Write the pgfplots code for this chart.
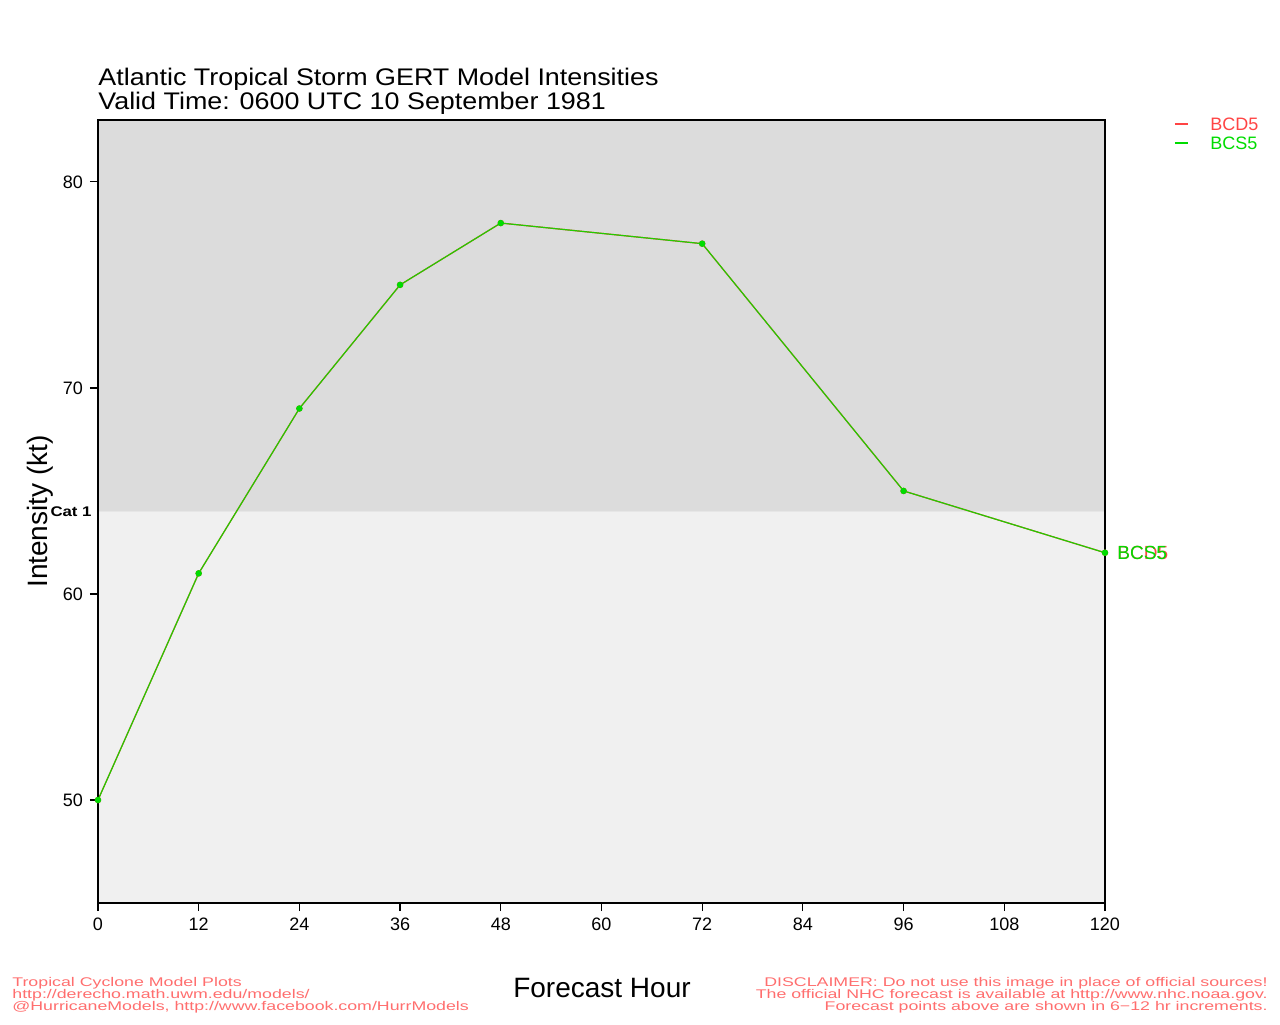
\documentclass[border=0pt]{standalone}
\usepackage{pgfplots}
\pgfplotsset{compat=1.18}
\usepackage{fontspec}
\setmainfont{Liberation Sans}
\newfontfamily\widefont[FakeStretch=1.12]{Liberation Sans}
\newfontfamily\footfont[FakeStretch=1.41]{Liberation Sans}
\newfontfamily\catfont[FakeStretch=1.2]{Liberation Sans}
\definecolor{bgtop}{RGB}{220,220,220}
\definecolor{bgbot}{RGB}{240,240,240}
\definecolor{lgreen}{RGB}{34,204,0}
\definecolor{mgreen}{RGB}{0,220,0}
\definecolor{lred}{RGB}{255,68,68}
\definecolor{ftred}{RGB}{255,110,110}
\begin{document}
\begin{tikzpicture}
\begin{axis}[
  scale only axis, width=503.5pt, height=391.5pt,
  xmin=0, xmax=120, ymin=45, ymax=83,
  xtick={0,12,...,120}, ytick={50,60,70,80},
  xtick pos=bottom, ytick pos=left,
  tick align=outside, major tick length=4pt,
  tick style={black, line width=0.6pt},
  axis line style={black, line width=0.6pt},
  axis on top,
  clip=false,
  /pgf/number format/assume math mode=true,
  ticklabel style={font=\fontsize{9}{10}\selectfont},
  xlabel={Forecast Hour}, ylabel={Intensity (kt)},
  label style={font=\fontsize{14}{16}\selectfont},
  xlabel style={at={(axis description cs:0.5005,-0.1086)}, anchor=center},
  ylabel style={at={(axis description cs:-0.0576,0.5)}, anchor=center},
]
\addplot[draw=none, fill=bgbot] coordinates {(0,45) (120,45) (120,64) (0,64)} \closedcycle;
\addplot[draw=none, fill=bgtop] coordinates {(0,64) (120,64) (120,83) (0,83)} \closedcycle;
% BCD5 (hidden below BCS5)
\addplot[lred, line width=0.6pt, mark=*, mark size=1.3pt, mark options={fill=lred, draw=lred}] coordinates {
(0,50) (12,61) (24,69) (36,75) (48,78) (72,77) (96,65) (120,62)};
% BCS5
\addplot[lgreen, line width=0.6pt, mark=*, mark size=1.3pt, mark options={fill=mgreen, draw=mgreen}] coordinates {
(0,50) (12,61) (24,69) (36,75) (48,78) (72,77) (96,65) (120,62)};
\node[anchor=west, text=lred, font=\fontsize{9.5}{11}\selectfont, inner sep=0pt] at ([xshift=6pt]axis cs:120,62) {BCD5};
\node[anchor=west, text=mgreen, font=\fontsize{9.5}{11}\selectfont, inner sep=0pt] at ([xshift=6pt]axis cs:120,62) {BCS5};
\node[anchor=east, font=\catfont\bfseries\fontsize{7}{8}\selectfont, inner sep=0pt] at ([xshift=-3pt]axis cs:0,64) {Cat 1};
% title
\node[anchor=west, inner sep=0pt, font=\widefont\fontsize{12}{14}\selectfont] at (axis description cs:0,1.0515) {Atlantic Tropical Storm GERT Model Intensities};
\node[anchor=west, inner sep=0pt, font=\widefont\fontsize{12}{14}\selectfont] at (axis description cs:0,1.021) {Valid Time: 0600 UTC 10 September 1981};
% legend
\draw[lred, line width=0.7pt] (axis description cs:1.0695,0.9949) -- (axis description cs:1.0824,0.9949);
\draw[mgreen, line width=0.7pt] (axis description cs:1.0695,0.9706) -- (axis description cs:1.0824,0.9706);
\node[anchor=west, inner sep=0pt, text=lred, font=\fontsize{9}{10}\selectfont] at (axis description cs:1.1043,0.9949) {BCD5};
\node[anchor=west, inner sep=0pt, text=mgreen, font=\fontsize{9}{10}\selectfont] at (axis description cs:1.1043,0.9706) {BCS5};
% footer
\begin{scope}[every node/.style={inner sep=0pt, text=ftred, font=\footfont\fontsize{6.3}{7}\selectfont}]
\node[anchor=west] at (axis description cs:-0.0854,-0.1022) {Tropical Cyclone Model Plots};
\node[anchor=west] at (axis description cs:-0.0854,-0.1175) {http://derecho.math.uwm.edu/models/};
\node[anchor=west] at (axis description cs:-0.0854,-0.1328) {@HurricaneModels, http://www.facebook.com/HurrModels};
\node[anchor=east] at (axis description cs:1.1619,-0.1022) {DISCLAIMER: Do not use this image in place of official sources!};
\node[anchor=east] at (axis description cs:1.1619,-0.1175) {The official NHC forecast is available at http://www.nhc.noaa.gov.};
\node[anchor=east] at (axis description cs:1.1619,-0.1328) {Forecast points above are shown in 6−12 hr increments.};
\end{scope}
\path[use as bounding box] (axis description cs:-0.0973,-0.1545) rectangle (axis description cs:1.1738,1.1533);
\end{axis}
\end{tikzpicture}
\end{document}
